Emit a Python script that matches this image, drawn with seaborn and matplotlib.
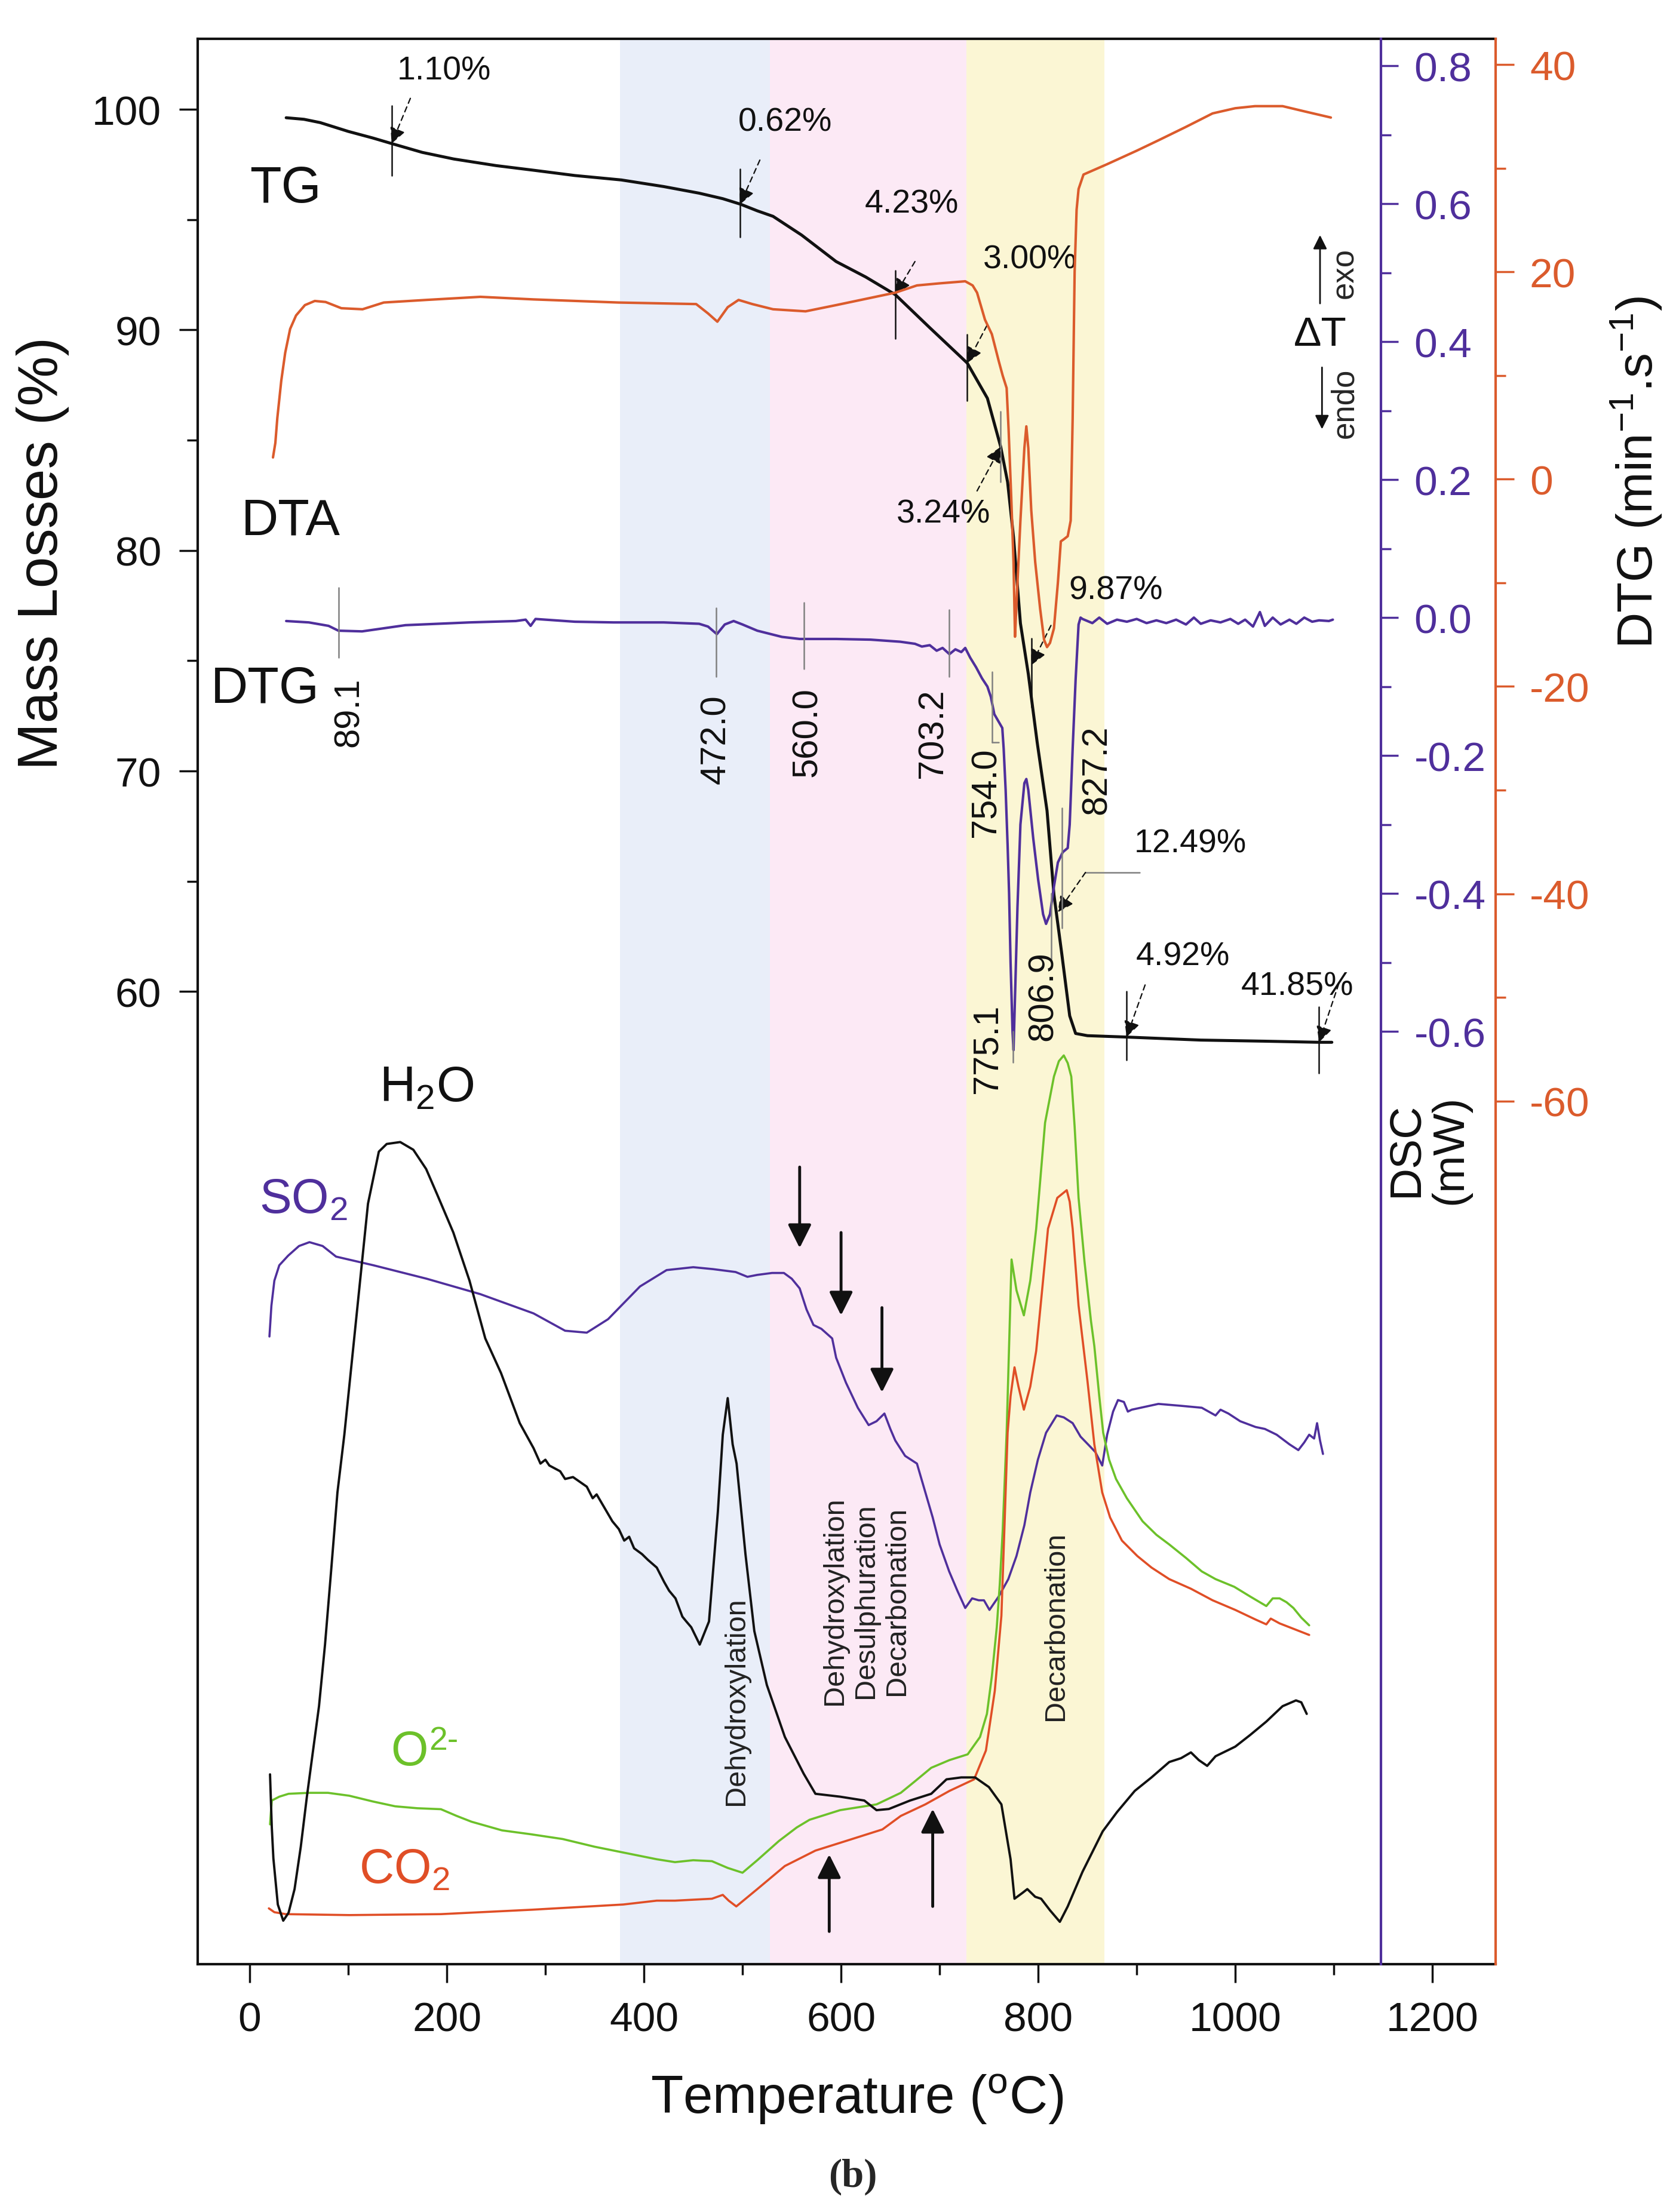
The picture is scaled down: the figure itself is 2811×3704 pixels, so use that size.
import numpy as np
import pandas as pd
import seaborn as sns
import matplotlib
matplotlib.use("Agg")
import matplotlib.pyplot as plt
from matplotlib.ticker import FixedLocator, FormatStrFormatter

# ---------------- data ----------------
tg_T = [37, 55, 71.5, 100, 125, 144, 175, 207, 250, 288, 330, 377, 420, 456, 480, 498,
        515, 531, 560, 595, 625, 655, 690, 728, 748.5, 762, 769, 775, 782, 790, 799, 809,
        816, 824, 832, 838, 850, 888, 965, 1030, 1085, 1098]
tg_M = [99.62, 99.55, 99.4, 99.0, 98.7, 98.45, 98.05, 97.75, 97.45, 97.24, 97.0, 96.8,
        96.5, 96.2, 95.95, 95.7, 95.4, 95.15, 94.3, 93.1, 92.4, 91.6, 90.1, 88.5, 86.9,
        84.7, 83.1, 80.6, 76.7, 74.4, 71.3, 68.2, 64.4, 61.7, 58.9, 58.1, 58.0, 57.94,
        57.8, 57.75, 57.7, 57.7]

dta_T = [23.6, 26, 28, 32, 36, 41, 47, 56, 66, 77, 93, 114.5, 136, 179, 234, 288, 374,
         453, 465, 474.5, 485, 496, 510, 531, 564, 595, 625, 655, 677, 700, 726, 733.5,
         738, 746, 753, 760, 764, 768, 770, 772.7, 775, 776.5, 778, 782, 786, 788, 790,
         793, 797, 802, 806, 809, 812, 816, 820, 823, 826, 830, 833, 835, 837, 839, 841,
         846, 870, 900, 922, 950, 977, 1000, 1020, 1048, 1070, 1097]
dta_V = [2.1, 3.5, 5.9, 9.5, 12.2, 14.5, 15.8, 16.8, 17.2, 17.1, 16.5, 16.4, 17.05, 17.3,
         17.6, 17.35, 17.05, 16.9, 16.0, 15.2, 16.6, 17.3, 16.9, 16.4, 16.2, 16.8, 17.4,
         18.0, 18.7, 18.9, 19.1, 18.7, 18.0, 15.4, 14.0, 11.4, 10.0, 8.8, 4.8, -1.8, -8.0,
         -15.2, -12.0, -4.0, 3.0, 5.1, 3.0, -3.0, -8.0, -12.5, -15.5, -16.2, -15.8, -14.4,
         -10.0, -6.0, -5.8, -5.5, -4.0, 5.9, 20.0, 26.0, 28.0, 29.4, 30.4, 31.7, 32.7,
         34.0, 35.3, 35.8, 36.0, 36.0, 35.5, 34.9]

dtg_T = [37, 60, 80, 90, 114, 158, 223, 270, 280, 285, 290, 330, 369, 420, 456, 465, 474,
         482, 491, 500, 515, 540, 558, 595, 630, 660, 675, 682, 690, 697, 703, 710, 716,
         722, 726, 731, 737, 743, 748.5, 752, 755.5, 763.6, 765, 767, 769, 770.5, 772, 774,
         775, 776.5, 779, 782, 786, 788, 790, 795, 800, 805, 808, 812, 816, 820, 825, 830,
         832, 835, 838, 841, 843, 845, 855, 862, 870, 880, 890, 900, 910, 920, 930, 940,
         950, 958, 965, 975, 985, 995, 1003, 1010, 1018, 1025, 1030, 1038, 1046, 1055,
         1062, 1070, 1078, 1085, 1095, 1099]
dtg_V = [-0.005, -0.007, -0.012, -0.019, -0.02, -0.011, -0.007, -0.005, -0.003, -0.012,
         -0.002, -0.006, -0.007, -0.007, -0.009, -0.013, -0.024, -0.01, -0.005, -0.01,
         -0.019, -0.028, -0.031, -0.031, -0.032, -0.035, -0.038, -0.042, -0.040, -0.048,
         -0.044, -0.053, -0.046, -0.05, -0.044, -0.058, -0.072, -0.088, -0.10, -0.115,
         -0.14, -0.16, -0.19, -0.25, -0.33, -0.40, -0.50, -0.60, -0.627, -0.55, -0.42,
         -0.30, -0.24, -0.234, -0.25, -0.32, -0.38, -0.43, -0.444, -0.43, -0.39, -0.355,
         -0.34, -0.334, -0.30, -0.19, -0.09, -0.01, 0.0, -0.002, -0.008, 0.0, -0.009,
         -0.003, -0.006, -0.002, -0.008, -0.004, -0.008, -0.003, -0.01, 0.0, -0.009,
         -0.004, -0.007, -0.002, -0.009, -0.003, -0.013, 0.008, -0.012, 0.0, -0.01,
         -0.003, -0.009, 0.0, -0.006, -0.004, -0.005, -0.003]

h2o_T = [20.6, 22.4, 24, 28.5, 34, 39.4, 45.5, 51.8, 58, 64, 70.3, 76.4, 82.7, 89, 96,
         108, 120, 131, 139, 152.7, 166, 179, 190, 206.6, 223, 239, 255, 274, 288, 295,
         300, 304, 315, 320, 328, 342, 348, 352, 360, 368, 374.5, 380, 385, 390, 398, 404,
         413, 420.5, 425.5, 432, 439, 443, 448, 456.6, 466, 475, 480, 485, 490, 494, 503,
         512, 524.7, 543, 562, 574, 599, 623.6, 636, 648.5, 670, 691.5, 707, 722, 736, 750,
         762.7, 772, 776, 784, 789, 797, 803, 812, 822, 830, 845, 865.5, 880, 898, 915, 933,
         945, 955, 963, 971.5, 980, 988, 1000, 1015, 1031.5, 1048, 1061.6, 1067, 1072.5]
h2o_V = [9.86, 7.1, 5.5, 3.1, 2.26, 2.67, 3.9, 6.1, 8.7, 11.0, 13.4, 16.6, 20.5, 24.5,
         27.5, 33.5, 39.5, 42.2, 42.6, 42.7, 42.3, 41.3, 40.0, 38.0, 35.5, 32.5, 30.7, 28.1,
         26.8, 26.0, 26.2, 25.9, 25.6, 25.2, 25.3, 24.8, 24.2, 24.4, 23.7, 23.0, 22.6, 22.0,
         22.2, 21.6, 21.3, 21.0, 20.6, 19.85, 19.4, 19.0, 18.05, 17.8, 17.5, 16.6, 17.8,
         23.5, 27.5, 29.4, 27.0, 26.0, 21.3, 17.3, 14.5, 11.8, 9.9, 8.85, 8.7, 8.5, 8.0,
         8.06, 8.5, 8.85, 9.6, 9.7, 9.7, 9.2, 8.3, 5.45, 3.4, 3.7, 3.9, 3.5, 3.4, 2.8, 2.2,
         3.0, 4.8, 6.9, 7.9, 9.0, 9.7, 10.5, 10.7, 11.0, 10.6, 10.3, 10.8, 11.0, 11.3, 11.9,
         12.6, 13.4, 13.7, 13.6, 13.0]

so2_T = [20, 22, 25, 30, 39, 50, 60.6, 74, 87.6, 125.5, 179.6, 234, 288, 320, 342, 363.6,
         396, 423, 450, 470, 493, 505, 515, 530, 542, 550, 558, 565, 572, 580, 591, 595,
         605, 617, 628, 636, 644, 650, 655, 665, 677, 685, 693, 700, 709.7, 718, 726, 733,
         739.7, 745, 750.6, 760, 769.7, 778, 786, 792, 799.7, 808, 818.8, 826, 835, 843,
         851.5, 858, 865, 870, 876, 881, 887, 891, 895, 922, 945, 966, 980, 985, 993, 1005,
         1020.6, 1030, 1042, 1055, 1064, 1070, 1075, 1080, 1083, 1086, 1089]
so2_V = [32.6, 34.2, 35.5, 36.3, 36.8, 37.3, 37.5, 37.3, 36.75, 36.3, 35.6, 34.8, 33.8,
         32.9, 32.8, 33.5, 35.2, 36.05, 36.2, 36.1, 35.95, 35.7, 35.8, 35.9, 35.9, 35.6,
         35.1, 34.0, 33.2, 33.0, 32.5, 31.5, 30.2, 28.9, 28.0, 28.2, 28.6, 27.8, 27.2, 26.4,
         26.0, 24.6, 23.2, 21.8, 20.4, 19.4, 18.5, 19.0, 18.9, 18.9, 18.4, 19.1, 20.0, 21.2,
         22.8, 24.5, 26.2, 27.6, 28.5, 28.4, 28.1, 27.4, 26.95, 26.6, 25.9, 27.5, 28.7,
         29.3, 29.2, 28.7, 28.8, 29.1, 29.0, 28.9, 28.5, 28.8, 28.6, 28.2, 27.9, 27.8, 27.5,
         27.0, 26.7, 27.1, 27.5, 27.3, 28.1, 27.2, 26.5]

o2_T = [20.6, 22.4, 30, 39.4, 60, 79.4, 101, 125, 147.6, 170, 194, 210, 225, 256, 285,
        317.6, 350, 379, 413, 431.5, 450, 469, 485, 500, 515, 537, 555, 568, 599, 636,
        660.6, 675, 691.5, 710, 728.5, 741, 748, 753, 758, 761, 764, 768, 773, 778, 785.5,
        792, 798, 807, 816, 821, 826, 830, 833.6, 837, 841, 847, 853.6, 857, 862, 866,
        872, 879, 890, 906, 920, 933, 950, 966, 980, 999, 1015, 1031.5, 1038, 1045, 1052,
        1059, 1067, 1075]
o2_V = [7.26, 8.5, 8.7, 8.85, 8.9, 8.9, 8.75, 8.45, 8.2, 8.1, 8.05, 7.7, 7.4, 6.95, 6.75,
        6.5, 6.1, 5.8, 5.45, 5.3, 5.4, 5.35, 5.0, 4.75, 5.4, 6.4, 7.1, 7.5, 8.0, 8.3, 8.9,
        9.5, 10.2, 10.6, 10.9, 11.8, 13.0, 14.95, 17.5, 19.7, 22.5, 27.6, 36.6, 35.0, 33.7,
        35.5, 38.2, 43.7, 46.1, 46.9, 47.2, 46.8, 46.1, 43.5, 39.8, 36.5, 33.4, 32.1, 29.5,
        27.6, 26.2, 25.2, 24.2, 23.0, 22.3, 21.8, 21.1, 20.4, 20.0, 19.6, 19.1, 18.6, 19.0,
        19.0, 18.8, 18.5, 18.0, 17.6]

co2_T = [19.4, 25, 36.4, 101, 194, 286.6, 379, 413, 431.5, 469, 480, 486, 493.7, 515, 543,
         574, 605, 642, 660.6, 685.5, 710, 735, 747, 756, 762.7, 766, 769, 772, 776, 780,
         785.5, 792, 798, 804, 810, 819.4, 829, 832, 835, 841, 850, 857, 865, 873, 885,
         900.6, 915, 933, 955, 977, 1000, 1020.6, 1031.5, 1036, 1045, 1060, 1075]
co2_V = [2.9, 2.7, 2.6, 2.55, 2.6, 2.83, 3.1, 3.3, 3.3, 3.4, 3.6, 3.3, 3.0, 3.9, 5.1, 5.9,
         6.4, 7.0, 7.7, 8.3, 9.0, 9.6, 11.1, 14.2, 18.1, 23.0, 27.6, 29.5, 31.0, 30.0, 28.8,
         30.0, 31.85, 35.0, 38.2, 39.8, 40.2, 39.6, 38.2, 34.2, 30.3, 27.0, 24.5, 23.2,
         22.0, 21.2, 20.6, 20.0, 19.5, 18.9, 18.4, 17.9, 17.65, 17.95, 17.7, 17.4, 17.1]

x_ticks = [0, 200, 400, 600, 800, 1000, 1200]
mass_ticks = [60, 70, 80, 90, 100]
dsc_ticks = [-0.6, -0.4, -0.2, 0.0, 0.2, 0.4, 0.6, 0.8]
dtg_ticks = [-60, -40, -20, 0, 20, 40]

bands = [(376, 528, "#E9EEF9"), (528, 727, "#FCE9F5"), (727, 867, "#FBF6D4")]

# ---------------- style ----------------
sns.set_theme(style="ticks")
plt.rcParams["font.family"] = ["Liberation Sans", "DejaVu Sans"]
plt.rcParams["mathtext.fontset"] = "custom"
plt.rcParams["mathtext.rm"] = "Liberation Sans"
plt.rcParams["mathtext.it"] = "Liberation Sans:italic"
plt.rcParams["mathtext.bf"] = "Liberation Sans:bold"
plt.rcParams["axes.unicode_minus"] = False

BLACK = "#111111"
ORANGE = "#DB5B2C"
PURPLE = "#4F2F9C"
GREEN = "#6CC12A"
RED = "#E04E26"
GRAY = "#808080"

fig = plt.figure(figsize=(28.11, 37.05), dpi=100)
ax = fig.add_axes([0.1178, 0.1120, 0.7730, 0.8702])
ax.set_xlim(-52.7, 1264.2)
ax.set_ylim(15.9, 103.2)
ax.set_facecolor("white")

ax2 = ax.twinx()
ax2.set_ylim(-1.952, 0.839)
ax3 = ax.twinx()
ax3.set_ylim(-143.3, 42.5)
ax4 = ax.twinx()
ax4.set_ylim(0, 100)
ax4.set_axis_off()

for lo, hi, c in bands:
    ax.axvspan(lo, hi, color=c, lw=0, zorder=0)

# main axis styling
for s in ["left", "top", "bottom"]:
    ax.spines[s].set_color(BLACK)
    ax.spines[s].set_linewidth(3)
ax.spines["right"].set_visible(False)
ax.xaxis.set_major_locator(FixedLocator(x_ticks))
ax.xaxis.set_minor_locator(FixedLocator([100, 300, 500, 700, 900, 1100]))
ax.yaxis.set_major_locator(FixedLocator(mass_ticks))
ax.yaxis.set_minor_locator(FixedLocator([65, 75, 85, 95]))
ax.tick_params(axis="both", which="major", direction="out", length=22, width=2.5,
               labelsize=50, pad=22, color=BLACK, labelcolor=BLACK)
ax.tick_params(axis="both", which="minor", direction="out", length=13, width=2.5,
               color=BLACK)
ax.tick_params(axis="x", top=False)

ax.set_xlabel("Temperature ($\\mathregular{^{o}}$C)", fontsize=64, color=BLACK)
ax.xaxis.set_label_coords(0.5076, -0.056)
ax.set_ylabel("Mass Losses (%)", fontsize=68, color=BLACK, va="center")
ax.yaxis.set_label_coords(-0.1197, 0.733)

# purple DSC axis
for s in ["left", "top", "bottom"]:
    ax2.spines[s].set_visible(False)
ax2.spines["right"].set_position(("axes", 0.9117))
ax2.spines["right"].set_color(PURPLE)
ax2.spines["right"].set_linewidth(3)
ax2.yaxis.set_major_locator(FixedLocator(dsc_ticks))
ax2.yaxis.set_minor_locator(FixedLocator([-0.5, -0.3, -0.1, 0.1, 0.3, 0.5, 0.7]))
ax2.yaxis.set_major_formatter(FormatStrFormatter("%.1f"))
ax2.tick_params(axis="y", which="major", direction="out", length=21, width=2.5,
                labelsize=50, pad=19, color=PURPLE, labelcolor=PURPLE)
ax2.tick_params(axis="y", which="minor", direction="out", length=12, width=2.5,
                color=PURPLE)
ax2.set_ylabel("DSC\n(mW)", fontsize=54, color=BLACK, va="center", ha="center",
               linespacing=1.1)
ax2.yaxis.set_label_coords(0.948, 0.4234)

# orange DTG axis
for s in ["left", "top", "bottom"]:
    ax3.spines[s].set_visible(False)
ax3.spines["right"].set_color(ORANGE)
ax3.spines["right"].set_linewidth(3)
ax3.yaxis.set_major_locator(FixedLocator(dtg_ticks))
ax3.yaxis.set_minor_locator(FixedLocator([-50, -30, -10, 10, 30]))
ax3.tick_params(axis="y", which="major", direction="out", length=22, width=2.5,
                labelsize=50, pad=19, color=ORANGE, labelcolor=ORANGE)
ax3.tick_params(axis="y", which="minor", direction="out", length=12, width=2.5,
                color=ORANGE)
ax3.set_ylabel("DTG (min$\\mathregular{^{-1}}$.s$\\mathregular{^{-1}}$)", fontsize=60,
               color=BLACK, va="center", ha="center")
ax3.yaxis.set_label_coords(1.1086, 0.775)

# ---------------- curves ----------------
def line(a, x, y, color, lw):
    sns.lineplot(x=x, y=y, ax=a, color=color, lw=lw, sort=False, estimator=None)

line(ax3, dta_T, dta_V, ORANGE, 3.0)
line(ax2, dtg_T, dtg_V, PURPLE, 3.0)
line(ax, tg_T, tg_M, BLACK, 3.6)
line(ax4, so2_T, so2_V, PURPLE, 2.6)
line(ax4, o2_T, o2_V, GREEN, 2.6)
line(ax4, co2_T, co2_V, RED, 2.6)
line(ax4, h2o_T, h2o_V, BLACK, 2.8)
for a in (ax, ax2, ax3, ax4):
    a.set_xlim(-52.7, 1264.2)
    if a.get_legend() is not None:
        a.get_legend().remove()
ax2.set_xlabel(""); ax3.set_xlabel(""); ax4.set_xlabel("")

# ---------------- TG annotations ----------------
tg_marks = [
    # (T, M, vtop, vbot, arrow-from T, arrow-from M, text T, text M, label, vcolor)
    (144, 98.45, 100.16, 97.0, 163, 100.5, 197, 101.76, "1.10%", BLACK),
    (497.6, 95.7, 97.3, 94.2, 517.6, 97.7, 543.6, 99.43, "0.62%", BLACK),
    (655, 91.6, 92.7, 89.6, 675, 93.1, 671.5, 95.7, "4.23%", BLACK),
    (728, 88.5, 89.8, 86.8, 748, 90.2, 791.5, 93.2, "3.00%", BLACK),
    (762, 84.7, 86.3, 83.1, 738, 82.7, 704, 81.65, "3.24%", GRAY),
    (793, 74.8, 76.0, 72.9, 813, 76.6, 879, 78.2, "9.87%", BLACK),
    (889.7, 57.94, 60.0, 56.9, 908.5, 60.3, 947, 61.6, "4.92%", BLACK),
    (1085, 57.7, 59.3, 56.3, 1105, 60.35, 1063, 60.25, "41.85%", BLACK),
]
for T, M, vt, vb, fT, fM, tT, tM, lab, vc in tg_marks:
    ax.plot([T, T], [vt, vb], color=vc, lw=1.8, zorder=5)
    ax.annotate("", xy=(T, M), xytext=(fT, fM),
                arrowprops=dict(arrowstyle="-|>", color=BLACK, lw=1.6,
                                linestyle=(0, (4, 3)), mutation_scale=40,
                                shrinkA=0, shrinkB=0), zorder=6)
    ax.text(tT, tM, lab, fontsize=40, ha="center", va="center", color=BLACK)

# 12.49 %
ax.plot([848, 903], [65.4, 65.4], color=GRAY, lw=1.8)
ax.annotate("", xy=(820, 63.6), xytext=(848, 65.4),
            arrowprops=dict(arrowstyle="-|>", color=BLACK, lw=1.6,
                            linestyle=(0, (4, 3)), mutation_scale=40,
                            shrinkA=0, shrinkB=0))
ax.text(954.5, 66.7, "12.49%", fontsize=40, ha="center", va="center", color=BLACK)

# curve labels
ax.text(36.2, 96.4, "TG", fontsize=62, ha="center", va="center", color=BLACK)
ax.text(41.6, 81.34, "DTA", fontsize=62, ha="center", va="center", color=BLACK)
ax.text(15.5, 73.7, "DTG", fontsize=62, ha="center", va="center", color=BLACK)

# exo / endo
ax.text(1086, 89.8, "ΔT", fontsize=50, ha="center", va="center", color=BLACK)
ax.annotate("", xy=(1086, 94.3), xytext=(1086, 91.2),
            arrowprops=dict(arrowstyle="-|>", color=BLACK, lw=2, mutation_scale=35,
                            shrinkA=0, shrinkB=0))
ax.annotate("", xy=(1088, 85.5), xytext=(1088, 88.3),
            arrowprops=dict(arrowstyle="-|>", color=BLACK, lw=2, mutation_scale=35,
                            shrinkA=0, shrinkB=0))
ax.text(1111, 92.6, "exo", fontsize=38, rotation=90, ha="center", va="center")
ax.text(1111, 86.7, "endo", fontsize=38, rotation=90, ha="center", va="center")

# DTG peak labels (purple axis coordinates)
dtg_marks = [
    # (line T, line top, line bottom, text T, text top, label)
    (90, 0.043, -0.058, 101, -0.086, "89.1"),
    (473, 0.014, -0.086, 473, -0.111, "472.0"),
    (562.6, 0.022, -0.074, 566, -0.10, "560.0"),
    (709.6, 0.011, -0.086, 693, -0.102, "703.2"),
    (753, -0.079, -0.181, 747, -0.188, "754.0"),
    (774.5, -0.60, -0.645, 748.5, -0.56, "775.1"),
    (813, -0.40, -0.50, 805, -0.483, "806.9"),
    (824, -0.276, -0.45, 859.5, -0.155, "827.2"),
]
for lT, lt, lb, tT, tt, lab in dtg_marks:
    ax2.plot([lT, lT], [lt, lb], color=GRAY, lw=1.8)
    ax2.text(tT, tt, lab, fontsize=43, rotation=90, ha="center", va="top", color=BLACK)
ax2.plot([753, 760], [-0.181, -0.181], color=GRAY, lw=1.8)

# gas labels
ax4.text(179.5, 45.5, "H$_\\mathregular{2}$O", fontsize=60, ha="center", va="center",
         color=BLACK)
ax4.text(54.5, 39.7, "SO$_\\mathregular{2}$", fontsize=58, ha="center", va="center",
         color=PURPLE)
ax4.text(162, 11.0, "O", fontsize=58, ha="center", va="center", color=GREEN)
ax4.annotate("2-", xy=(162, 11.0), xytext=(24, 14), textcoords="offset points",
             fontsize=40, ha="left", va="center", color=GREEN)
ax4.text(157, 4.9, "CO$_\\mathregular{2}$", fontsize=58, ha="center", va="center",
         color=RED)

# process labels
ax4.text(493.7, 13.7, "Dehydroxylation", fontsize=35, rotation=90, ha="center",
         va="center", color="#222222")
ax4.text(625, 18.9, "Dehydroxylation\nDesulphuration\nDecarbonation", fontsize=35,
         rotation=90, ha="center", va="center", multialignment="center",
         linespacing=1.2, color="#222222")
ax4.text(818, 17.6, "Decarbonation", fontsize=35, rotation=90, ha="center",
         va="center", color="#222222")

# event arrows
for T, g0, g1 in [(558, 41.4, 37.2), (600, 38.0, 33.7), (641.5, 34.1, 29.7),
                  (588, 1.7, 5.7), (693, 3.0, 8.06)]:
    ax4.annotate("", xy=(T, g1), xytext=(T, g0),
                 arrowprops=dict(arrowstyle="-|>", color=BLACK, lw=3.5,
                                 mutation_scale=60, shrinkA=0, shrinkB=0))

fig.text(0.508, 0.0162, "(b)", fontsize=48, fontweight="bold", ha="center", va="center",
         family=["Liberation Serif", "DejaVu Serif"])

fig.savefig("out.png", dpi=100, facecolor="white")
